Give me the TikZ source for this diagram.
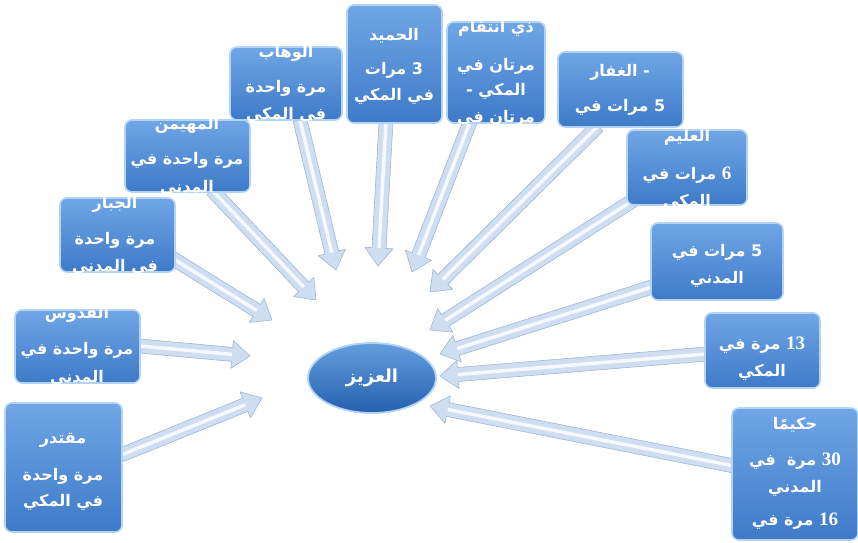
\documentclass[tikz,border=0pt]{standalone}
\usepackage{fontspec}
\TeXXeTstate=1
\newfontfamily\arabicfont[Script=Arabic]{DejaVu Sans}
\newfontfamily\numfont{Liberation Serif}
\usetikzlibrary{calc,shapes.geometric}
\definecolor{boxtop}{RGB}{112,166,230}
\definecolor{boxbot}{RGB}{62,122,200}
\definecolor{boxedge}{RGB}{178,212,244}
\definecolor{arrfill}{RGB}{206,221,240}
\definecolor{arredge}{RGB}{158,184,215}
\definecolor{elltop}{RGB}{100,158,224}
\definecolor{ellbot}{RGB}{36,96,172}
\newcommand\ar[1]{\beginR #1\endR}
\newcommand\nm[1]{{\numfont\bfseries\fontsize{19}{19}\selectfont #1}}
\newcommand\blockarrow[2]{%
  \coordinate (#1h) at ($(#2)!18pt!(#1)$);
  \filldraw[arrowbody]
    ($(#1)!7pt!90:(#2)$) -- ($(#1h)!7pt!90:(#2)$) -- ($(#1h)!14pt!90:(#2)$) --
    (#2) -- ($(#1h)!14pt!-90:(#2)$) -- ($(#1h)!7pt!-90:(#2)$) --
    ($(#1)!7pt!-90:(#2)$) -- cycle;
  \draw[arrowshine] (#1) -- (#1h);
}
\tikzset{
  panel/.style={rounded corners=7pt, draw=boxedge, line width=1.6pt,
    top color=boxtop, bottom color=boxbot, inner sep=0pt},
  txt/.style={text=white, font=\arabicfont\bfseries\fontsize{16}{19}\selectfont, inner sep=0pt},
  arrowbody/.style={fill=arrfill, draw=arredge, line width=0.6pt, line join=round},
  arrowshine/.style={draw=white, line width=3.5pt, opacity=0.8},
  hub/.style={ellipse, draw=boxedge, line width=1.8pt, top color=elltop, bottom color=ellbot,
    minimum width=128pt, minimum height=70pt, inner sep=0pt},
}
\begin{document}
\begin{tikzpicture}[x=1pt,y=-1pt]
\useasboundingbox (0,0) rectangle (858,542);
% arrow coordinates
\coordinate (s1) at (121,455); \coordinate (e1) at (262,398);
\coordinate (s2) at (140,346); \coordinate (e2) at (250,356);
\coordinate (s3) at (172,258); \coordinate (e3) at (272,320);
\coordinate (s4) at (212,190); \coordinate (e4) at (316,300);
\coordinate (s5) at (300,120); \coordinate (e5) at (336,270);
\coordinate (s6) at (386,122); \coordinate (e6) at (378,266);
\coordinate (s7) at (470,122); \coordinate (e7) at (412,272);
\coordinate (s8) at (598,126); \coordinate (e8) at (430,292);
\coordinate (s9) at (640,196); \coordinate (e9) at (430,330);
\coordinate (s10) at (655,286); \coordinate (e10) at (440,354);
\coordinate (s11) at (706,354); \coordinate (e11) at (440,376);
\coordinate (s12) at (734,466); \coordinate (e12) at (430,406);
\foreach \i in {1,...,12}{\blockarrow{s\i}{e\i}}
% panels
\node[panel, minimum width=117pt, minimum height=129pt] (b1) at (63.5,467.5) {};
\node[panel, minimum width=125pt, minimum height=73pt] (b2) at (77.5,346.5) {};
\node[panel, minimum width=115pt, minimum height=74pt] (b3) at (117.5,235) {};
\node[panel, minimum width=125pt, minimum height=72pt] (b4) at (187.5,156) {};
\node[panel, minimum width=112pt, minimum height=73pt] (b5) at (286,83.5) {};
\node[panel, minimum width=95pt, minimum height=118pt] (b6) at (394.5,64) {};
\node[panel, minimum width=98pt, minimum height=101pt] (b7) at (496,72.5) {};
\node[panel, minimum width=125pt, minimum height=75pt] (b8) at (620.5,89.5) {};
\node[panel, minimum width=120pt, minimum height=75pt] (b9) at (687,167.5) {};
\node[panel, minimum width=132pt, minimum height=77pt] (b10) at (717,261.5) {};
\node[panel, minimum width=115pt, minimum height=75pt] (b11) at (762.5,350.5) {};
\node[panel, minimum width=126pt, minimum height=132pt] (b12) at (795,474) {};
% texts, clipped to their panels
\begin{scope}\clip[rounded corners=7pt] (b1.south west) rectangle (b1.north east);
\node[txt] (t1a) at (63,440) {\ar{مقتدر}};
\node[txt] (t1b) at (63,476) {\ar{واحدة} \ar{مرة}};
\node[txt] (t1c) at (63,502) {\ar{المكي} \ar{في}};
\end{scope}
\begin{scope}\clip[rounded corners=7pt] (b2.south west) rectangle (b2.north east);
\node[txt] (t2a) at (77,314) {\ar{القدوس}};
\node[txt] (t2b) at (77,350) {\ar{في} \ar{واحدة} \ar{مرة}};
\node[txt] (t2c) at (77,378) {\ar{المدني}};
\end{scope}
\begin{scope}\clip[rounded corners=7pt] (b3.south west) rectangle (b3.north east);
\node[txt] (t3a) at (115,204) {\ar{الجبار}};
\node[txt] (t3b) at (115,240) {\ar{واحدة} \ar{مرة}};
\node[txt] (t3c) at (115,267) {\ar{المدني} \ar{في}};
\end{scope}
\begin{scope}\clip[rounded corners=7pt] (b4.south west) rectangle (b4.north east);
\node[txt] (t4a) at (187,125) {\ar{المهيمن}};
\node[txt] (t4b) at (187,160) {\ar{في} \ar{واحدة} \ar{مرة}};
\node[txt] (t4c) at (187,188) {\ar{المدني}};
\end{scope}
\begin{scope}\clip[rounded corners=7pt] (b5.south west) rectangle (b5.north east);
\node[txt] (t5a) at (286,53) {\ar{الوهاب}};
\node[txt] (t5b) at (286,88) {\ar{واحدة} \ar{مرة}};
\node[txt] (t5c) at (286,115) {\ar{المكي} \ar{في}};
\end{scope}
\begin{scope}\clip[rounded corners=7pt] (b6.south west) rectangle (b6.north east);
\node[txt] (t6a) at (394,36) {\ar{الحميد}};
\node[txt] (t6b) at (394,70) {\ar{مرات} 3};
\node[txt] (t6c) at (394,96) {\ar{المكي} \ar{في}};
\end{scope}
\begin{scope}\clip[rounded corners=7pt] (b7.south west) rectangle (b7.north east);
\node[txt] (t7a) at (496,28) {\ar{انتقام} \ar{ذي}};
\node[txt] (t7b) at (496,66) {\ar{في} \ar{مرتان}};
\node[txt] (t7c) at (496,91) {- \ar{المكي}};
\node[txt] (t7d) at (496,118) {\ar{في} \ar{مرتان}};
\end{scope}
\begin{scope}\clip[rounded corners=7pt] (b8.south west) rectangle (b8.north east);
\node[txt] (t8a) at (620,72) {\ar{الغفار} -};
\node[txt] (t8b) at (620,107) {\ar{في} \ar{مرات} 5};
\node[txt] (t8c) at (620,136) {\ar{المكي}};
\end{scope}
\begin{scope}\clip[rounded corners=7pt] (b9.south west) rectangle (b9.north east);
\node[txt] (t9a) at (687,137) {\ar{العليم}};
\node[txt] (t9b) at (687,175) {\ar{في} \ar{مرات} \nm{6}};
\node[txt] (t9c) at (687,202) {\ar{المكي}};
\end{scope}
\begin{scope}\clip[rounded corners=7pt] (b10.south west) rectangle (b10.north east);
\node[txt] (t10a) at (717,252) {\ar{في} \ar{مرات} 5};
\node[txt] (t10b) at (717,279) {\ar{المدني}};
\end{scope}
\begin{scope}\clip[rounded corners=7pt] (b11.south west) rectangle (b11.north east);
\node[txt] (t11a) at (762,345) {\ar{في} \ar{مرة} \nm{13}};
\node[txt] (t11b) at (762,372) {\ar{المكي}};
\end{scope}
\begin{scope}\clip[rounded corners=7pt] (b12.south west) rectangle (b12.north east);
\node[txt] (t12a) at (795,425) {\ar{حكيمًا}};
\node[txt] (t12b) at (795,461) {\ar{في}\ \ \ar{مرة} \nm{30}};
\node[txt] (t12c) at (795,488) {\ar{المدني}};
\node[txt] (t12d) at (795,521) {\ar{في} \ar{مرة} \nm{16}};
\end{scope}
% hub
\node[hub] (hub) at (372,378) {};
\node[txt, font=\arabicfont\bfseries\fontsize{18}{21}\selectfont] (hubt) at (hub.center) {\ar{العزيز}};
\end{tikzpicture}
\end{document}
